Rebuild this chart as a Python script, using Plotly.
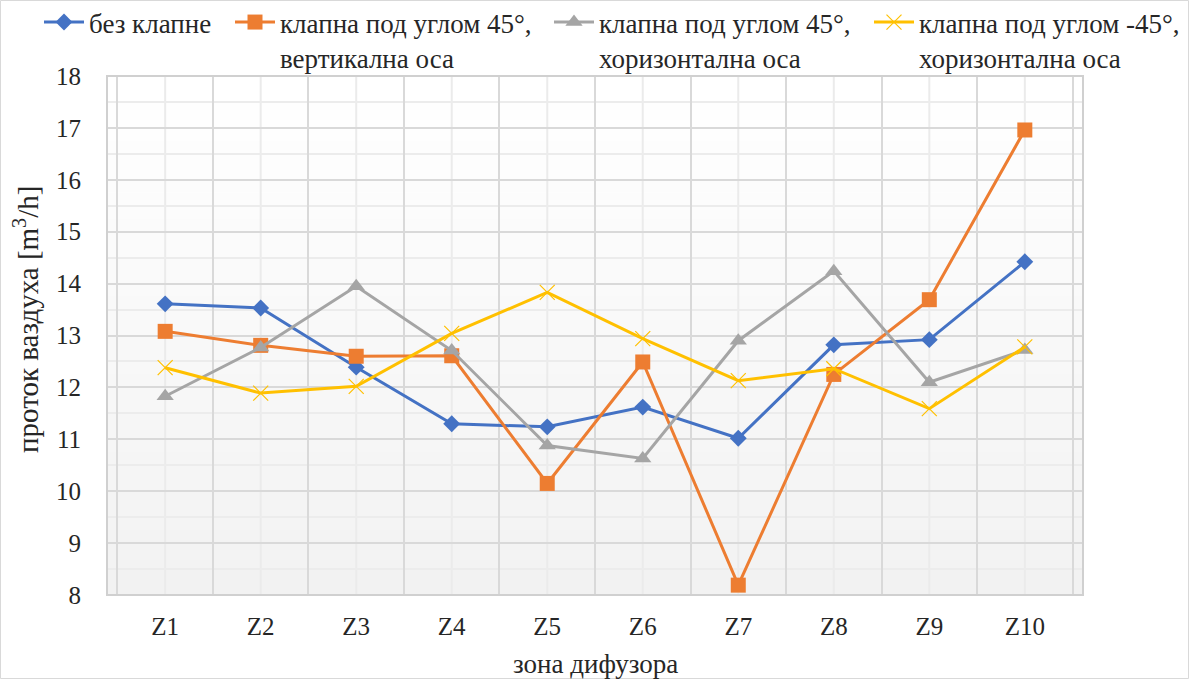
import plotly.graph_objects as go

categories = ["Z1", "Z2", "Z3", "Z4", "Z5", "Z6", "Z7", "Z8", "Z9", "Z10"]
bez_klapne = [13.61, 13.53, 12.39, 11.30, 11.24, 11.62, 11.02, 12.82, 12.92, 14.42]
klapna_45_vert = [13.08, 12.81, 12.60, 12.61, 10.15, 12.49, 8.19, 12.25, 13.69, 16.96]
klapna_45_horiz = [11.83, 12.77, 13.95, 12.71, 10.88, 10.63, 12.90, 14.24, 12.10, 12.72]
klapna_m45_horiz = [12.38, 11.89, 12.02, 13.04, 13.83, 12.94, 12.13, 12.36, 11.59, 12.78]

names = [
    "без клапне",
    "клапна под углом 45°,<br>вертикална оса",
    "клапна под углом 45°,<br>хоризонтална оса",
    "клапна под углом -45°,<br>хоризонтална оса",
]
x_title = "зона дифузора"
y_title = "проток ваздуха [m<sup>3</sup>/h]"

FONT = "'Liberation Serif', 'Times New Roman', Tinos, 'DejaVu Serif', serif"
FS_TICK = 25
FS_TEXT = 27
TXT = "#262626"
W, H = 1189, 679
ML, MR, MT, MB = 107, 106, 76, 84

fig = go.Figure()

series = [
    (bez_klapne, "#4472C4", dict(symbol="diamond", size=13), "legend"),
    (klapna_45_vert, "#ED7D31", dict(symbol="square", size=15), "legend2"),
    (klapna_45_horiz, "#A5A5A5", dict(symbol="triangle-up", size=15), "legend3"),
    (klapna_m45_horiz, "#FFC000", dict(symbol="x-thin-open", size=15, line=dict(width=1.2)), "legend4"),
]
for (vals, col, mk, lg), nm in zip(series, names):
    m = dict(color=col, **mk)
    if "line" in m:
        m["line"] = dict(color=col, width=m["line"]["width"])
    fig.add_trace(go.Scatter(
        x=categories, y=vals, name=nm, mode="lines+markers",
        line=dict(color=col, width=3), marker=m, legend=lg,
    ))

pw, ph = W - ML - MR, H - MT - MB

def px_(pix):
    return (pix - ML) / pw

def py_(pix):
    return (H - MB - pix) / ph

# background gradient bands (white at top -> light grey at bottom)
shapes = []
n = 40
for i in range(n):
    t = (i + 0.5) / n
    v = int(round(242 + (255 - 242) * t))
    shapes.append(dict(type="rect", xref="paper", yref="paper",
                       x0=0, x1=1, y0=i / n, y1=(i + 1) / n + 0.001,
                       fillcolor=f"rgb({v},{v},{v})", line=dict(width=0), layer="below"))
# minor vertical gridlines at category centres
for c in categories:
    shapes.append(dict(type="line", xref="x", yref="paper", x0=c, x1=c, y0=0, y1=1,
                       line=dict(color="#ebebeb", width=2), layer="below"))
# plot area border
shapes.append(dict(type="rect", xref="paper", yref="paper", x0=0, x1=1, y0=0, y1=1,
                   line=dict(color="#d0d0d0", width=2), fillcolor="rgba(0,0,0,0)", layer="above"))
# outer chart border
shapes.append(dict(type="rect", xref="paper", yref="paper",
                   x0=px_(0.5), x1=px_(W - 0.5), y0=py_(H - 0.5), y1=py_(0.5),
                   line=dict(color="#d9d9d9", width=1), fillcolor="rgba(0,0,0,0)", layer="below"))

leg_common = dict(orientation="h", xref="container", yref="paper", yanchor="top",
                  y=py_(-2), bgcolor="rgba(0,0,0,0)",
                  font=dict(family=FONT, size=FS_TEXT, color=TXT), valign="top",
                  itemwidth=40, tracegroupgap=0)

annotations = [
    dict(text=x_title, xref="paper", yref="paper", x=0.5, y=py_(664),
         xanchor="center", yanchor="middle", showarrow=False,
         font=dict(family=FONT, size=FS_TEXT, color=TXT)),
    dict(text=y_title, xref="paper", yref="paper", x=px_(26), y=py_(320),
         xanchor="center", yanchor="middle", showarrow=False, textangle=-90,
         font=dict(family=FONT, size=29, color=TXT)),
]

fig.update_layout(
    width=W, height=H,
    margin=dict(l=ML, r=MR, t=MT, b=MB, autoexpand=False),
    paper_bgcolor="white",
    plot_bgcolor="rgba(0,0,0,0)",
    font=dict(family=FONT, size=FS_TICK, color=TXT),
    showlegend=True,
    legend=dict(x=39 / W, **leg_common),
    legend2=dict(x=230 / W, **leg_common),
    legend3=dict(x=549 / W, **leg_common),
    legend4=dict(x=869 / W, **leg_common),
    shapes=shapes,
    annotations=annotations,
    xaxis=dict(
        type="category", categoryorder="array", categoryarray=categories,
        tickson="boundaries", showgrid=True, gridcolor="#d9d9d9", gridwidth=2,
        ticks="outside", ticklen=20, tickcolor="rgba(0,0,0,0)",
        ticklabelstandoff=14,
        showline=False, zeroline=False,
        tickfont=dict(family=FONT, size=FS_TICK, color=TXT),
    ),
    yaxis=dict(
        range=[8, 18], dtick=1, tick0=8,
        showgrid=True, gridcolor="#d9d9d9", gridwidth=2,
        minor=dict(dtick=0.5, showgrid=True, gridcolor="#ececec", gridwidth=2),
        ticks="outside", ticklen=20, tickcolor="rgba(0,0,0,0)",
        showline=False, zeroline=False,
        tickfont=dict(family=FONT, size=FS_TICK, color=TXT),
    ),
)

fig.write_html("out.html", config={"displayModeBar": False},
               post_script="document.body.style.margin='0';")
